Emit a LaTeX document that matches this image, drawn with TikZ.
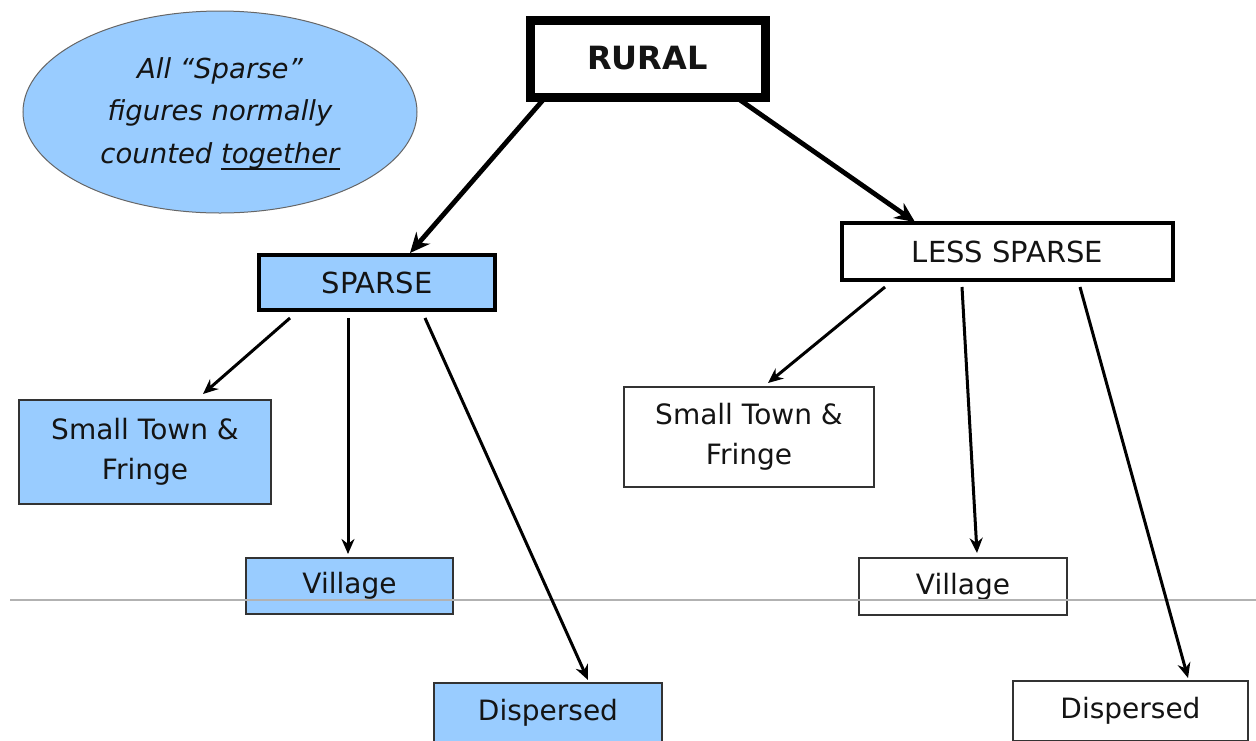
\documentclass[tikz,border=0pt]{standalone}
\usepackage{fontspec}
\setmainfont{DejaVu Sans}
\usetikzlibrary{arrows.meta,calc,shapes.geometric}
\definecolor{skyfill}{HTML}{99CCFF}
\definecolor{boxline}{HTML}{333333}
\newcommand{\ulthick}[1]{\leavevmode\setbox0\hbox{#1}\rlap{#1}\rule[-7pt]{\wd0}{2.2pt}}
\begin{document}
\begin{tikzpicture}[x=1pt,y=-1pt,
  every node/.style={inner sep=0pt,outer sep=0pt,text=black!92},
  bigbox/.style={draw=black,rectangle},
  leafbox/.style={draw=boxline,line width=1.8pt,rectangle,align=center,font=\fontsize{28}{40}\selectfont},
  blue/.style={fill=skyfill},
  thickarr/.style={draw=black,line width=4.8pt,-{Stealth[length=20pt,width=18pt]}},
  thinarr/.style={draw=black,line width=3pt,-{Stealth[length=15pt,width=13pt]}}
]
\useasboundingbox (0,0) rectangle (1256,740);
\clip (0,0) rectangle (1256,740);
\fill[white] (0,0) rectangle (1256,740);

% note ellipse
\node[ellipse,draw=black!60,line width=1pt,fill=skyfill,minimum width=394pt,minimum height=202pt] (note) at (220,112) {};
\node[align=center,font=\fontsize{27.5}{42.5}\selectfont\itshape] (notetext) at ($(note.center)+(0,2)$)
  {All ``Sparse''\\figures normally\\counted \ulthick{together}};

% top level
\node[bigbox,line width=9pt,minimum width=235pt,minimum height=77pt,font=\fontsize{32}{36}\selectfont\bfseries] (rural) at (647.5,58.5) {RURAL};
\node[bigbox,blue,line width=4.5pt,minimum width=236pt,minimum height=55pt,font=\fontsize{29}{32}\selectfont] (sparse) at (377,282.5) {SPARSE};
\node[bigbox,fill=white,line width=4pt,minimum width=331pt,minimum height=57pt,font=\fontsize{29}{32}\selectfont] (less) at (1007.5,251.5) {LESS SPARSE};

% leaves
\node[leafbox,blue,minimum width=252pt,minimum height=104pt] (stl) at (145,452) {Small Town \&\\Fringe};
\node[leafbox,fill=white,minimum width=250pt,minimum height=100pt] (str) at (749,437) {Small Town \&\\Fringe};
\node[leafbox,blue,minimum width=207pt,minimum height=56pt] (vl) at (349.5,586) {Village};
\node[leafbox,fill=white,minimum width=208pt,minimum height=57pt] (vr) at (963,586.5) {Village};
\node[leafbox,blue,minimum width=228pt,minimum height=60pt] (dl) at (548,713) {Dispersed};
\node[leafbox,fill=white,minimum width=235pt,minimum height=60pt] (dr) at (1130.5,711) {Dispersed};

% grey rule
\coordinate (ruleL) at (10,600);
\coordinate (ruleR) at (1256,600);
\draw[black!30,line width=1.5pt] (ruleL) -- (ruleR);

% connectors
\draw[thickarr] ($(rural.south west)+(13,3)$) -- ($(sparse.north)+(33,-2)$);
\draw[thickarr] ($(rural.south east)+(-25,3)$) -- ($(less.north west)+(73,-1)$);

\draw[thinarr] ($(sparse.south)+(-87,8)$) -- ($(stl.north)+(58,-6)$);
\draw[thinarr] ($(sparse.south)+(-29,8)$) -- ($(vl.north)+(-1.5,-4)$);
\draw[thinarr] ($(sparse.south)+(48,8)$) -- ($(dl.north)+(40,-3)$);

\draw[thinarr] ($(less.south)+(-122.5,7)$) -- ($(str.north)+(19,-4)$);
\draw[thinarr] ($(less.south)+(-45.5,7)$) -- ($(vr.north)+(14,-5)$);
\draw[thinarr] ($(less.south)+(72.5,7)$) -- ($(dr.north)+(57.5,-3)$);
\end{tikzpicture}
\end{document}
